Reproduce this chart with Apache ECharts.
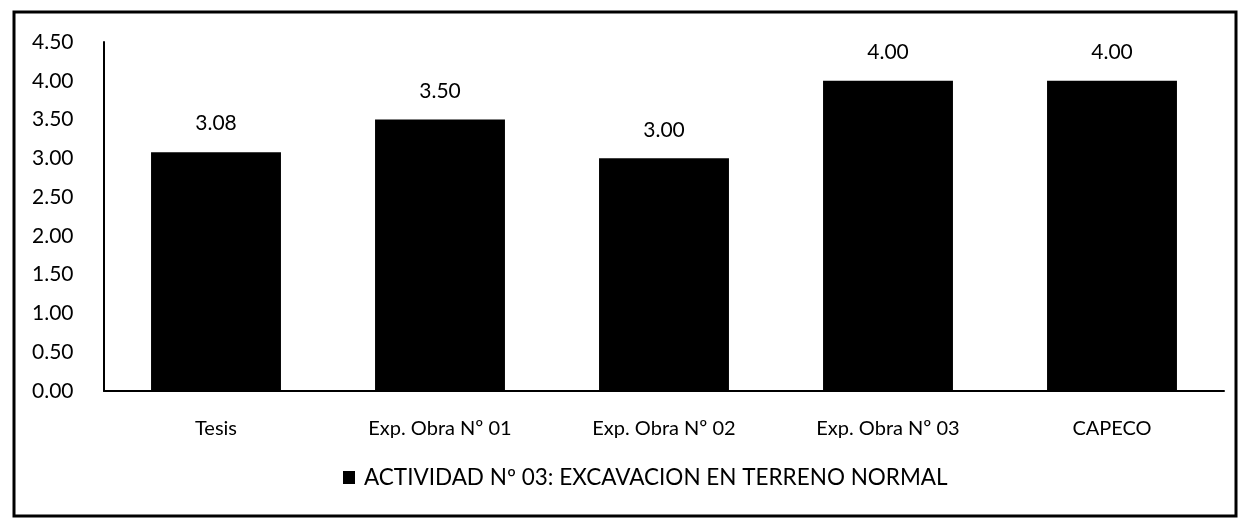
<!DOCTYPE html>
<html><head><meta charset="utf-8">
<script src="https://cdn.jsdelivr.net/npm/echarts@6/dist/echarts.min.js"></script>
<style>html,body{margin:0;padding:0;background:#fff}#c{width:1240px;height:520px}</style>
</head><body><div id="c"></div>
<script>
const categories = ["Tesis", "Exp. Obra Nº 01", "Exp. Obra Nº 02", "Exp. Obra Nº 03", "CAPECO"];
const values = [3.08, 3.50, 3.00, 4.00, 4.00];
const seriesName = "ACTIVIDAD Nº 03: EXCAVACION EN TERRENO NORMAL";
const FONT = "Lato, 'Open Sans', sans-serif";
const chart = echarts.init(document.getElementById('c'));
chart.setOption({
  animation: false,
  backgroundColor: '#fff',
  graphic: [{type:'rect', shape:{x:14, y:12, width:1222, height:504}, style:{fill:'none', stroke:'#000', lineWidth:3}, z:-1}],
  grid: {left:104, right:16, top:42, bottom:129},
  legend: {bottom:26, left:338, itemWidth:12, itemHeight:13, icon:'rect',
    textStyle:{fontFamily:FONT, fontSize:22.5, color:'#000', padding:[0,0,0,4]}, data:[seriesName]},
  xAxis: {type:'category', data:categories,
    axisLine:{lineStyle:{color:'#000', width:2}}, axisTick:{show:false},
    axisLabel:{fontFamily:FONT, fontSize:20, color:'#000', margin:28}},
  yAxis: {type:'value', min:0, max:4.5, interval:0.5,
    axisLine:{show:true, lineStyle:{color:'#000', width:2}}, axisTick:{show:false}, splitLine:{show:false},
    axisLabel:{fontFamily:FONT, fontSize:21, color:'#000', margin:0, align:'left', padding:[0,0,0,-72], formatter:v=>v.toFixed(2)}},
  series: [{name:seriesName, type:'bar', data:values, barWidth:'58%', itemStyle:{color:'#000'},
    label:{show:true, position:'top', distance:18, fontFamily:FONT, fontSize:21, color:'#000', formatter:p=>p.value.toFixed(2)}}]
});
</script></body></html>
